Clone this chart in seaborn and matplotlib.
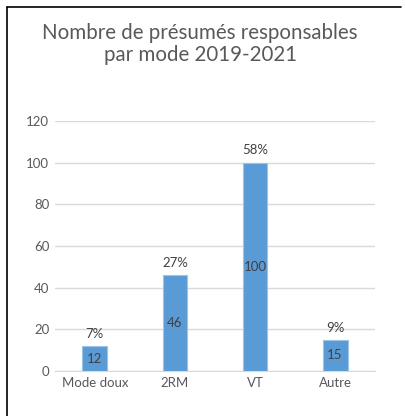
import pandas as pd
import seaborn as sns
import matplotlib.pyplot as plt
from matplotlib.lines import Line2D

# chart data
modes = ["Mode doux", "2RM", "VT", "Autre"]
counts = [12, 46, 100, 15]
shares = ["7%", "27%", "58%", "9%"]

df = pd.DataFrame({"Mode": modes, "Nombre": counts})

sns.set_style("white")
plt.rcParams["font.family"] = ["Lato", "DejaVu Sans"]

fig = plt.figure(figsize=(4.06, 4.16), dpi=100)
ax = fig.add_axes([0.135, 0.108, 0.789, 0.601])

sns.barplot(data=df, x="Mode", y="Nombre", color="#5B9BD5", width=0.31,
            saturation=1, edgecolor="#9DC3E6", linewidth=0.8, ax=ax, zorder=3)

ax.set_ylim(0, 120)
ax.set_yticks(range(0, 121, 20))
ax.yaxis.grid(True, color="#D9D9D9", linewidth=1)
ax.set_axisbelow(True)
for s in ["top", "right", "left"]:
    ax.spines[s].set_visible(False)
ax.spines["bottom"].set_color("#D9D9D9")
ax.tick_params(axis="both", length=0, labelsize=9.5, colors="#595959", pad=4)
ax.set_xlabel("")
ax.set_ylabel("")

# value inside bars, share above bars
for i, (c, p) in enumerate(zip(counts, shares)):
    ax.text(i, c / 2, str(c), ha="center", va="center", fontsize=9.5, color="#404040", zorder=4)
    ax.text(i, c + 3, p, ha="center", va="bottom", fontsize=9.5, color="#404040")

fig.text(0.493, 0.894, "Nombre de présumés responsables\npar mode 2019-2021",
         ha="center", va="center", fontsize=14.8, color="#595959", linespacing=1.1)

# frame lines (top and left)
fig.add_artist(Line2D([7 / 406, 401 / 406], [1 - 7 / 416, 1 - 7 / 416], color="black", linewidth=1.2))
fig.add_artist(Line2D([7 / 406, 7 / 406], [0, 1 - 7 / 416], color="black", linewidth=1.2))

fig.savefig("out.png", dpi=100)
